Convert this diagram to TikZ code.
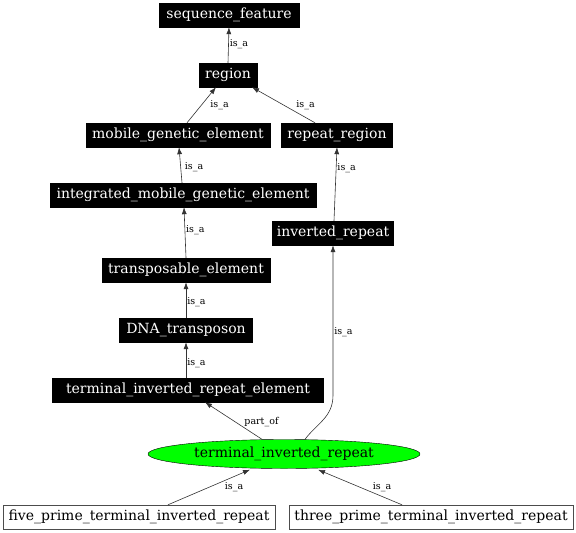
\documentclass[tikz,border=0pt]{standalone}
\usepackage{fontspec}
\setmainfont{DejaVu Serif}
\usetikzlibrary{arrows.meta,shapes.geometric}
\tikzset{
  blk/.style={fill=black, draw=black, text=white, minimum height=24pt, inner sep=0pt, font=\fontsize{14}{16}\selectfont},
  wht/.style={fill=white, draw=black!70, text=black, minimum height=24pt, inner sep=0pt, font=\fontsize{14}{16}\selectfont},
  ell/.style={ellipse, fill={rgb,255:red,0;green,255;blue,0}, draw=black, minimum height=29pt, inner sep=0pt, font=\fontsize{14}{16}\selectfont},
  edge/.style={draw=black!80, line width=0.6pt, -{Latex[length=7pt,width=5pt]}},
  lab/.style={font=\fontsize{9.5}{11}\selectfont, inner sep=1pt}
}
\begin{document}
\begin{tikzpicture}[x=1pt,y=-1pt]
\useasboundingbox (0,0) rectangle (576,533);
\node[blk, minimum width=140pt] (sf) at (229,15) {sequence\_feature};
\node[blk, minimum width=58pt] (reg) at (228,75) {region};
\node[blk, minimum width=184pt] (mge) at (178,135) {mobile\_genetic\_element};
\node[blk, minimum width=111pt] (rr) at (337,135) {repeat\_region};
\node[blk, minimum width=266pt] (imge) at (183,195) {integrated\_mobile\_genetic\_element};
\node[blk, minimum width=121pt] (ir) at (333,233) {inverted\_repeat};
\node[blk, minimum width=168pt] (te) at (186,270) {transposable\_element};
\node[blk, minimum width=133pt] (dna) at (186,330) {DNA\_transposon};
\node[blk, minimum width=271pt] (tire) at (188,390) {terminal\_inverted\_repeat\_element};
\node[ell, minimum width=272pt] (tir) at (284,454) {terminal\_inverted\_repeat};
\node[wht, minimum width=272pt] (five) at (139,517) {five\_prime\_terminal\_inverted\_repeat};
\node[wht, minimum width=284pt] (three) at (431,517) {three\_prime\_terminal\_inverted\_repeat};

\draw[edge] (reg.north) -- node[lab, right, yshift=1pt] {is\_a} (sf.south);
\draw[edge] ([xshift=9pt]mge.north) -- node[lab, xshift=18pt] {is\_a} ([xshift=-12pt]reg.south);
\draw[edge] ([xshift=-22pt]rr.north) -- node[lab, xshift=22pt] {is\_a} ([xshift=24pt]reg.south);
\draw[edge] ([xshift=-1pt]imge.north) -- node[lab, right, pos=0.45, xshift=3pt] {is\_a} ([xshift=1pt]mge.south);
\draw[edge] (te.north) -- node[lab, right, pos=0.55] {is\_a} ([xshift=1pt]imge.south);
\draw[edge] (dna.north) -- node[lab, right, yshift=-2pt] {is\_a} (te.south);
\draw[edge] ([xshift=-2pt]tire.north) -- node[lab, right, yshift=-3pt] {is\_a} (dna.south);
\draw[edge] ([xshift=1pt]ir.north) -- node[lab, right, pos=0.72] {is\_a} (rr.south);
\draw[edge] ([xshift=21pt]tir.north) .. controls ([xshift=33pt, yshift=16pt]tir.north) and ([yshift=-172pt]ir.south) .. ([yshift=-150pt]ir.south) -- node[lab, right, pos=0.42] {is\_a} (ir.south);
\draw[edge] ([xshift=-22pt]tir.north) -- node[lab, xshift=28pt, yshift=-1pt] {part\_of} ([xshift=17pt]tire.south);
\draw[edge] ([xshift=29pt]five.north) -- node[lab, xshift=25pt] {is\_a} ([xshift=-34pt, yshift=-1pt]tir.south);
\draw[edge] ([xshift=-29pt]three.north) -- node[lab, xshift=22pt] {is\_a} ([xshift=34pt, yshift=-1pt]tir.south);
\end{tikzpicture}
\end{document}
